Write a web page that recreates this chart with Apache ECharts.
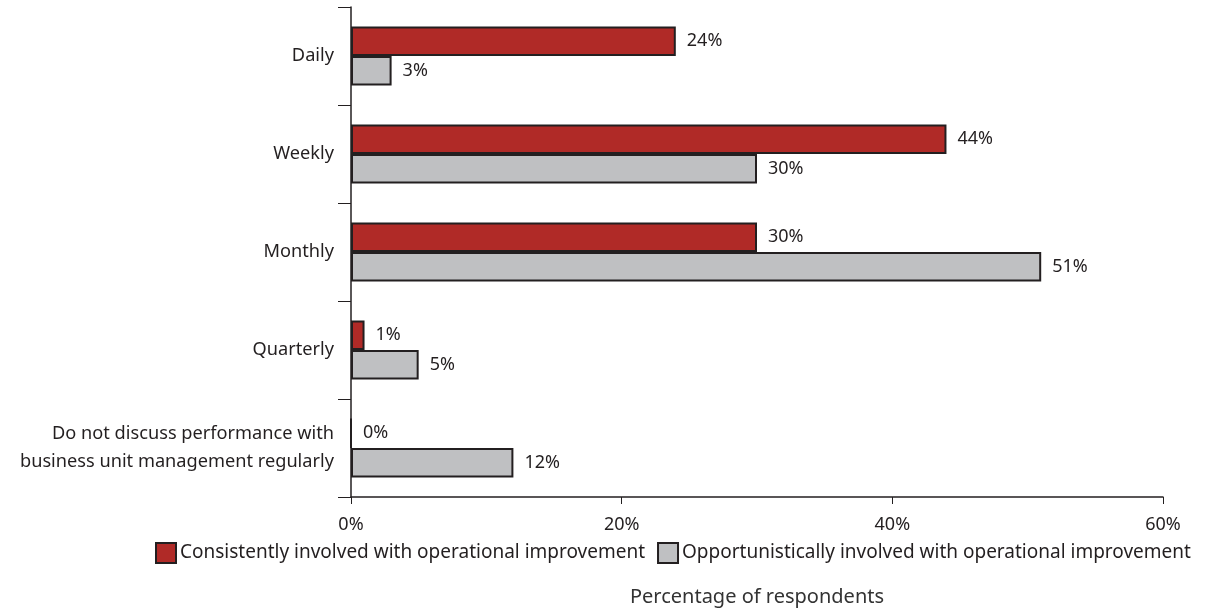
<!DOCTYPE html>
<html>
<head>
<meta charset="utf-8">
<script src="https://cdn.jsdelivr.net/npm/echarts@6/dist/echarts.min.js"></script>
<style>
  html, body { margin: 0; padding: 0; background: #fff; }
  #chart { width: 1227px; height: 609px; }
</style>
</head>
<body>
<div id="chart"></div>
<script>
// How often performance is discussed with business unit management
const categories = [
  'Daily',
  'Weekly',
  'Monthly',
  'Quarterly',
  'Do not discuss performance with\nbusiness unit management regularly'
];
const consistentValues = [24, 44, 30, 1, 0];
const opportunisticValues = [3, 30, 51, 5, 12];
const seriesNames = [
  'Consistently involved with operational improvement',
  'Opportunistically involved with operational improvement'
];
const xTicks = { min: 0, max: 60, interval: 20 };
const axisTitle = 'Percentage of respondents';

const FONT = '"Noto Sans", "Open Sans", sans-serif';
const INK = '#231f20';

const labelStyle = {
  show: true,
  position: 'right',
  distance: 11,
  formatter: '{c}%',
  color: INK,
  fontSize: 18,
  fontFamily: FONT
};

const chart = echarts.init(document.getElementById('chart'), null, { renderer: 'canvas' });
chart.setOption({
  animation: false,
  textStyle: { fontFamily: FONT },
  grid: { left: 351, right: 64, top: 7, bottom: 112, outerBoundsMode: 'none' },
  legend: {
    left: 150,
    top: 537,
    itemWidth: 20,
    itemHeight: 20,
    itemGap: 12,
    icon: 'rect',
    textStyle: { fontSize: 19, color: INK, fontFamily: FONT, padding: [0, 0, 0, -1] },
    data: seriesNames
  },
  xAxis: {
    type: 'value',
    min: xTicks.min,
    max: xTicks.max,
    interval: xTicks.interval,
    name: axisTitle,
    nameLocation: 'middle',
    nameGap: 90,
    nameTextStyle: { fontSize: 20, color: '#333', fontFamily: FONT },
    axisLine: { show: true, lineStyle: { color: INK, width: 1.5 } },
    axisTick: { show: true, length: 7, lineStyle: { color: INK, width: 1 } },
    axisLabel: { formatter: '{value}%', fontSize: 18, color: INK, margin: 19 },
    splitLine: { show: false }
  },
  yAxis: {
    type: 'category',
    inverse: true,
    data: categories,
    axisLine: { show: true, lineStyle: { color: INK, width: 1.5 } },
    axisTick: { show: true, length: 13, lineStyle: { color: INK, width: 1 } },
    axisLabel: { fontSize: 18.2, color: INK, margin: 17, lineHeight: 28, align: 'right' }
  },
  series: [
    {
      name: seriesNames[0],
      type: 'bar',
      data: consistentValues,
      barGap: '0%',
      barCategoryGap: '40%',
      itemStyle: { color: '#b02a27', borderColor: INK, borderWidth: 2 },
      label: labelStyle
    },
    {
      name: seriesNames[1],
      type: 'bar',
      data: opportunisticValues,
      barGap: '0%',
      barCategoryGap: '40%',
      itemStyle: { color: '#bfc0c2', borderColor: INK, borderWidth: 2 },
      label: labelStyle
    }
  ]
});
</script>
</body>
</html>
